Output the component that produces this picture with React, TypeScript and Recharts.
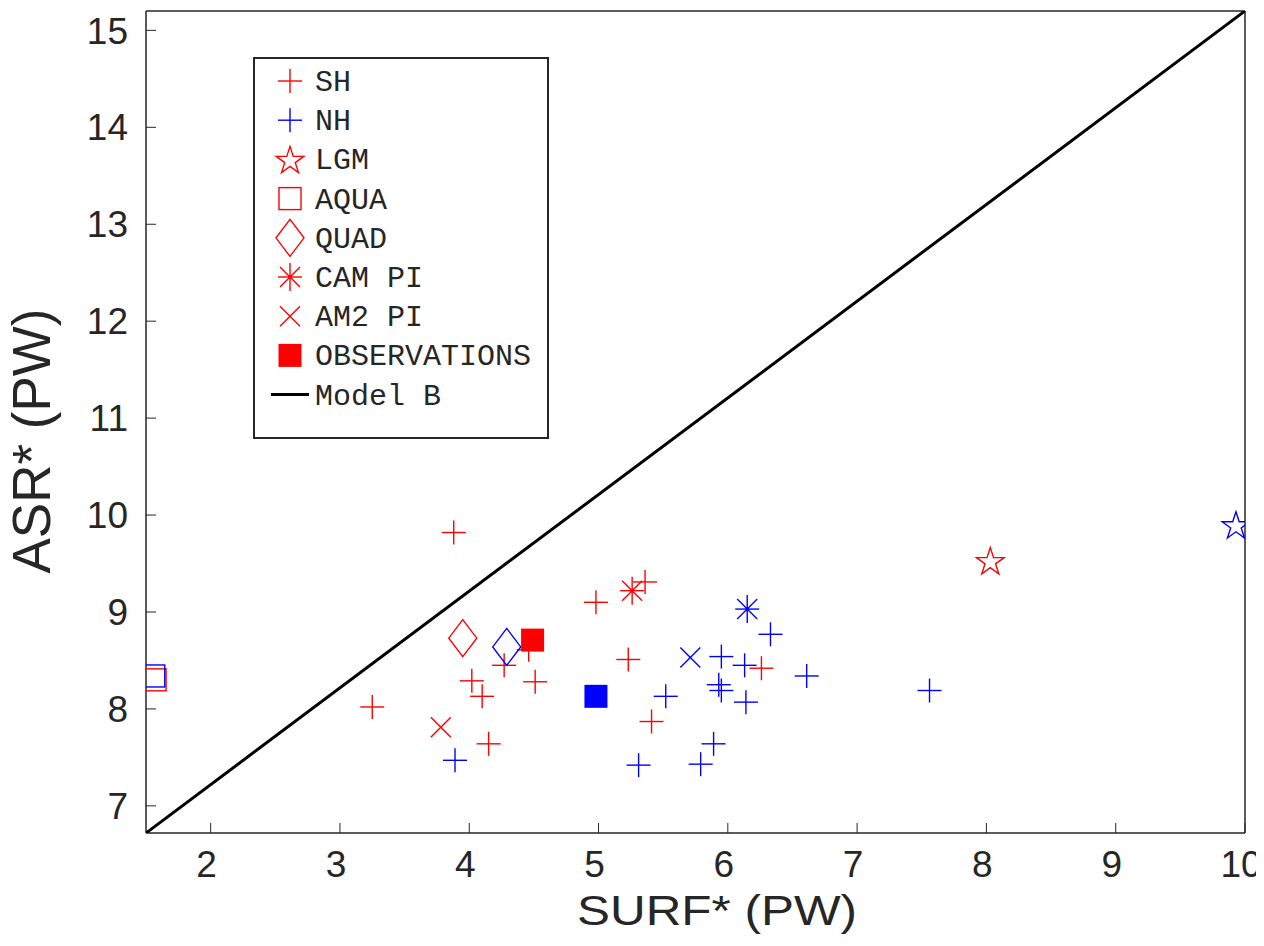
import React from 'react';
import { ScatterChart, Scatter, XAxis, YAxis, Legend, Label } from 'recharts';

const RED = '#ff0000';
const BLUE = '#0000ff';
const INK = '#262626';

// values (SURF*, ASR*) in PW
const shPoints = [
  { x: 3.25, y: 8.02 },
  { x: 3.88, y: 9.82 },
  { x: 4.02, y: 8.29 },
  { x: 4.1, y: 8.13 },
  { x: 4.15, y: 7.64 },
  { x: 4.27, y: 8.45 },
  { x: 4.46, y: 8.61 },
  { x: 4.51, y: 8.28 },
  { x: 4.98, y: 9.1 },
  { x: 5.23, y: 8.51 },
  { x: 5.36, y: 9.31 },
  { x: 5.41, y: 7.87 },
  { x: 6.26, y: 8.42 },
];
const nhPoints = [
  { x: 3.89, y: 7.47 },
  { x: 5.31, y: 7.42 },
  { x: 5.52, y: 8.13 },
  { x: 5.79, y: 7.43 },
  { x: 5.89, y: 7.64 },
  { x: 5.93, y: 8.25 },
  { x: 5.95, y: 8.19 },
  { x: 5.95, y: 8.54 },
  { x: 6.13, y: 8.45 },
  { x: 6.14, y: 8.07 },
  { x: 6.33, y: 8.77 },
  { x: 6.61, y: 8.34 },
  { x: 7.56, y: 8.19 },
];
const lgmRed = [{ x: 8.03, y: 9.53 }];
const lgmBlue = [{ x: 9.93, y: 9.9 }];
const aquaRed = [{ x: 1.57, y: 8.3 }];
const aquaBlue = [{ x: 1.56, y: 8.34 }];
const quadRed = [{ x: 3.95, y: 8.73 }];
const quadBlue = [{ x: 4.29, y: 8.64 }];
const camRed = [{ x: 5.26, y: 9.22 }];
const camBlue = [{ x: 6.15, y: 9.03 }];
const am2Red = [{ x: 3.78, y: 7.81 }];
const am2Blue = [{ x: 5.71, y: 8.53 }];
const obsRed = [{ x: 4.49, y: 8.71 }];
const obsBlue = [{ x: 4.98, y: 8.13 }];
const modelB = [
  { x: 1.5, y: 6.72 },
  { x: 10, y: 15.2 },
];

const xTicks = [2, 3, 4, 5, 6, 7, 8, 9, 10];
const yTicks = [7, 8, 9, 10, 11, 12, 13, 14, 15];

const legendItems = [
  { name: 'SH', kind: 'plus', color: RED },
  { name: 'NH', kind: 'plus', color: BLUE },
  { name: 'LGM', kind: 'star', color: RED },
  { name: 'AQUA', kind: 'square', color: RED },
  { name: 'QUAD', kind: 'diamond', color: RED },
  { name: 'CAM PI', kind: 'asterisk', color: RED },
  { name: 'AM2 PI', kind: 'cross', color: RED },
  { name: 'OBSERVATIONS', kind: 'filled', color: RED },
  { name: 'Model B', kind: 'line', color: '#000' },
];

function starPoints(cx: number, cy: number, R: number) {
  const r = R * 0.382;
  const pts: string[] = [];
  for (let i = 0; i < 10; i++) {
    const rad = i % 2 === 0 ? R : r;
    const a = -Math.PI / 2 + (i * Math.PI) / 5;
    pts.push(`${cx + rad * Math.cos(a)},${cy + rad * Math.sin(a)}`);
  }
  return pts.join(' ');
}

function Marker({ kind, color, cx, cy }: { kind: string; color: string; cx: number; cy: number }) {
  const sw = 1.4;
  switch (kind) {
    case 'plus':
      return (
        <g stroke={color} strokeWidth={sw}>
          <line x1={cx - 12} y1={cy} x2={cx + 12} y2={cy} />
          <line x1={cx} y1={cy - 12} x2={cx} y2={cy + 12} />
        </g>
      );
    case 'star':
      return <polygon points={starPoints(cx, cy + 1.5, 14.5)} fill="none" stroke={color} strokeWidth={sw} />;
    case 'square':
      return <rect x={cx - 11} y={cy - 11} width={22} height={22} fill="none" stroke={color} strokeWidth={sw} />;
    case 'diamond':
      return (
        <polygon
          points={`${cx},${cy - 18.5} ${cx + 14},${cy} ${cx},${cy + 18.5} ${cx - 14},${cy}`}
          fill="none"
          stroke={color}
          strokeWidth={sw}
        />
      );
    case 'asterisk':
      return (
        <g stroke={color} strokeWidth={sw}>
          <line x1={cx - 12} y1={cy} x2={cx + 12} y2={cy} />
          <line x1={cx} y1={cy - 14} x2={cx} y2={cy + 14} />
          <line x1={cx - 10} y1={cy - 10} x2={cx + 10} y2={cy + 10} />
          <line x1={cx - 10} y1={cy + 10} x2={cx + 10} y2={cy - 10} />
          <circle cx={cx} cy={cy} r={1.8} fill={color} stroke="none" />
        </g>
      );
    case 'cross':
      return (
        <g stroke={color} strokeWidth={sw}>
          <line x1={cx - 10} y1={cy - 10} x2={cx + 10} y2={cy + 10} />
          <line x1={cx - 10} y1={cy + 10} x2={cx + 10} y2={cy - 10} />
        </g>
      );
    case 'filled':
      return <rect x={cx - 11.5} y={cy - 11.5} width={23} height={23} fill={color} />;
    case 'line':
      return <line x1={cx - 19} y1={cy} x2={cx + 19} y2={cy} stroke={color} strokeWidth={3} />;
    default:
      return <g />;
  }
}

const shapeOf = (kind: string, color: string) => (p: any) => (
  <Marker kind={kind} color={color} cx={p.cx} cy={p.cy} />
);

function LegendBox() {
  return (
    <svg width={296} height={382} style={{ display: 'block' }}>
      <rect x={1} y={1} width={294} height={380} fill="#fff" stroke={INK} strokeWidth={2} />
      {legendItems.map((item, i) => {
        const cy = 24 + i * 39.2;
        return (
          <g key={item.name}>
            <Marker kind={item.kind} color={item.color} cx={37} cy={cy} />
            <text x={62} y={cy + 10} fontFamily="'Liberation Mono', monospace" fontSize={30} fill={INK}>
              {item.name}
            </text>
          </g>
        );
      })}
    </svg>
  );
}

const tickStyle = { fontSize: 37, fontFamily: "'Liberation Sans', Arial, sans-serif", fill: INK };
const axisLine = { stroke: INK, strokeWidth: 1.5 };
const tickLine = { stroke: INK, strokeWidth: 1 };

export default function App() {
  return (
    <div style={{ margin: -8 }}>
      <ScatterChart width={1264} height={946} margin={{ top: 0, right: 0, bottom: 0, left: 0 }}>
        <XAxis
          type="number"
          dataKey="x"
          domain={[1.5, 10]}
          ticks={xTicks}
          allowDataOverflow
          interval={0}
          height={113}
          tickSize={-10}
          tickMargin={28}
          tick={{ ...tickStyle, dx: -4 }}
          axisLine={axisLine}
          tickLine={tickLine}
        >
          <Label
            content={() => (
              <text
                x={717}
                y={925}
                textAnchor="middle"
                fontSize={42}
                fontFamily="'Liberation Sans', Arial, sans-serif"
                fill={INK}
                textLength={280}
                lengthAdjust="spacingAndGlyphs"
              >
                SURF* (PW)
              </text>
            )}
          />
        </XAxis>
        <XAxis
          xAxisId="top"
          orientation="top"
          type="number"
          domain={[1.5, 10]}
          ticks={xTicks}
          allowDataOverflow
          height={11}
          tickSize={-10}
          tick={false}
          axisLine={axisLine}
          tickLine={tickLine}
        />
        <YAxis
          type="number"
          dataKey="y"
          domain={[6.72, 15.2]}
          ticks={yTicks}
          allowDataOverflow
          interval={0}
          width={146}
          tickSize={-10}
          tickMargin={28}
          tick={tickStyle}
          axisLine={axisLine}
          tickLine={tickLine}
        >
          <Label
            content={() => (
              <text
                x={50}
                y={441}
                transform="rotate(-90 50 441)"
                textAnchor="middle"
                fontSize={53}
                fontFamily="'Liberation Sans', Arial, sans-serif"
                fill={INK}
              >
                ASR* (PW)
              </text>
            )}
          />
        </YAxis>
        <YAxis
          yAxisId="right"
          orientation="right"
          type="number"
          domain={[6.72, 15.2]}
          ticks={yTicks}
          allowDataOverflow
          width={19}
          tickSize={-10}
          tick={false}
          axisLine={axisLine}
          tickLine={tickLine}
        />
        <Legend
          layout="vertical"
          align="center"
          verticalAlign="middle"
          wrapperStyle={{ left: 253, top: 57 }}
          content={() => <LegendBox />}
        />
        <Scatter
          name="Model B"
          data={modelB}
          line={{ stroke: '#000', strokeWidth: 3 }}
          shape={() => <g />}
          isAnimationActive={false}
          legendType="none"
        />
        <Scatter name="SH" data={shPoints} shape={shapeOf('plus', RED)} isAnimationActive={false} />
        <Scatter name="NH" data={nhPoints} shape={shapeOf('plus', BLUE)} isAnimationActive={false} />
        <Scatter name="LGM" data={lgmRed} shape={shapeOf('star', RED)} isAnimationActive={false} />
        <Scatter name="LGM NH" data={lgmBlue} shape={shapeOf('star', BLUE)} isAnimationActive={false} />
        <Scatter name="AQUA" data={aquaRed} shape={shapeOf('square', RED)} isAnimationActive={false} />
        <Scatter name="AQUA NH" data={aquaBlue} shape={shapeOf('square', BLUE)} isAnimationActive={false} />
        <Scatter name="QUAD" data={quadRed} shape={shapeOf('diamond', RED)} isAnimationActive={false} />
        <Scatter name="QUAD NH" data={quadBlue} shape={shapeOf('diamond', BLUE)} isAnimationActive={false} />
        <Scatter name="CAM PI" data={camRed} shape={shapeOf('asterisk', RED)} isAnimationActive={false} />
        <Scatter name="CAM PI NH" data={camBlue} shape={shapeOf('asterisk', BLUE)} isAnimationActive={false} />
        <Scatter name="AM2 PI" data={am2Red} shape={shapeOf('cross', RED)} isAnimationActive={false} />
        <Scatter name="AM2 PI NH" data={am2Blue} shape={shapeOf('cross', BLUE)} isAnimationActive={false} />
        <Scatter name="OBSERVATIONS" data={obsRed} shape={shapeOf('filled', RED)} isAnimationActive={false} />
        <Scatter name="OBSERVATIONS NH" data={obsBlue} shape={shapeOf('filled', BLUE)} isAnimationActive={false} />
      </ScatterChart>
    </div>
  );
}
